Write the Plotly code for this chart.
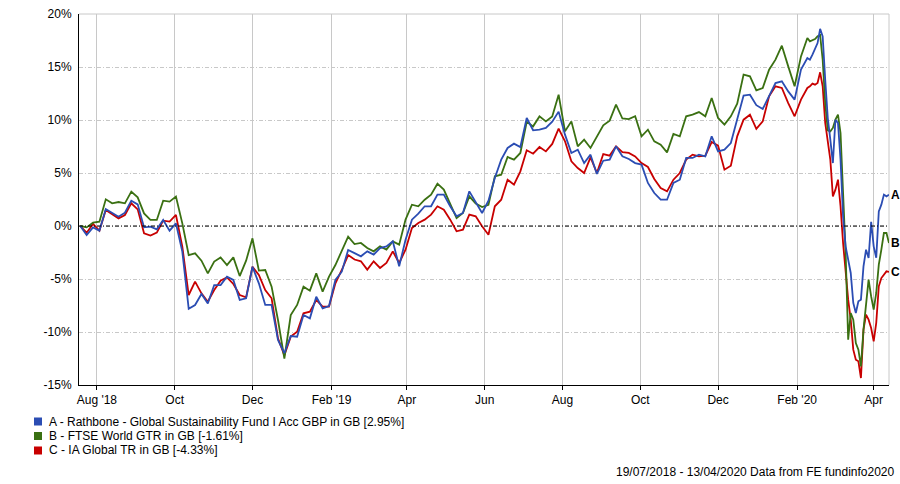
import plotly.graph_objects as go
import pandas as pd

# ---------------- data ----------------
START = "2018-07-19"
# sampling offsets in days from START (5-day steps, then 2-day steps in the 2020 sell-off)
DAY_OFFSETS = list(range(0, 570, 5)) + list(range(570, 634, 2)) + [634]

SERIES_NAMES = [
    "A - Rathbone - Global Sustainability Fund I Acc GBP in GB [2.95%]",
    "B - FTSE World GTR in GB [-1.61%]",
    "C - IA Global TR in GB [-4.33%]",
]
SERIES_TAGS = ["A", "B", "C"]

A_VALUES = [
    0, -0.85, -0.13, -0.44, 1.60, 1.26, 0.88, 1.26, 2.39, 2.04,
    -0.13, -0.06, -0.31, 0.57, -0.44, 0.25, -2.42, -7.8, -7.45, -6.42,
    -7.30, -5.57, -5.57, -4.78, -5.09, -6.98, -6.82, -3.84, -5.41, -7.45,
    -7.45, -10.75, -12.0, -10.38, -10.44, -8.40, -8.71, -6.67, -7.77, -7.55,
    -5.09, -4.31, -2.26, -2.56, -2.86, -2.39, -2.70, -2.08, -1.92, -1.45,
    -3.81, -1.29, 0.60, 1.16, 1.86, 1.86, 2.96, 2.96, 1.86, 0.91,
    1.23, 3.27, 2.23, 1.23, 2.38, 4.53, 6.26, 7.36, 7.77, 7.45,
    10.19, 9.03, 9.09, 9.25, 9.84, 10.79, 8.62, 6.89, 7.20, 5.94,
    6.73, 4.91, 6.16, 6.26, 7.52, 6.58, 6.32, 5.94, 5.79, 4.06,
    3.11, 2.48, 2.48, 4.06, 4.37, 6.42, 6.42, 6.73, 6.57, 8.46,
    7.04, 7.20, 7.83, 10.19, 12.30, 12.39, 11.4, 11.04, 12.23, 13.49,
    13.65, 12.70, 11.92, 14.75,
    15.85, 15.69, 16.16, 16.70, 17.26, 18.6, 17.89, 13.80, 10.19, 8.14,
    5.94, 10.03, 9.72, 6.26, 0.91, -1.92, -3.18, -4.43, -7.26, -8.21,
    -7.11, -6.95, -3.81, -2.23, -3.02, 0.4, -1.92, -3.0, 1.38, 2.01,
    2.96, 2.80, 2.95,
]

B_VALUES = [
    0, -0.13, 0.31, 0.41, 2.52, 2.14, 2.26, 2.14, 3.24, 2.70,
    1.19, 0.57, 0.57, 2.39, 2.30, 2.77, 0.25, -2.74, -2.58, -3.27,
    -4.47, -3.36, -2.96, -3.68, -2.96, -4.72, -3.27, -1.16, -4.21, -4.15,
    -5.72, -8.87, -12.5, -8.4, -7.45, -5.72, -6.10, -4.47, -6.19, -4.78,
    -3.68, -2.26, -1.01, -1.70, -1.60, -2.08, -2.39, -1.92, -2.23, -1.45,
    -1.76, 0.60, 2.01, 1.86, 2.48, 2.96, 3.99, 3.43, 2.01, 0.75,
    1.23, 2.80, 2.11, 1.79, 2.0, 4.69, 4.84, 6.51, 6.26, 6.89,
    9.84, 9.40, 10.34, 9.87, 10.34, 12.39, 8.93, 9.87, 7.52, 8.14,
    7.36, 8.46, 9.50, 9.94, 11.45, 10.14, 10.09, 10.35, 8.46, 9.09,
    7.99, 7.67, 6.95, 8.68, 8.46, 10.35, 10.5, 10.75, 10.35, 12.08,
    10.19, 9.56, 10.35, 11.54, 14.28, 14.12, 12.8, 13.02, 14.75, 15.69,
    17.01, 15.06, 13.18, 16.0,
    17.74, 17.42, 17.52, 17.64, 17.89, 18.0, 15.69, 11.60, 9.03, 8.93,
    9.25, 10.03, 10.50, 8.77, 3.11, -2.55, -10.72, -8.21, -8.84, -11.04,
    -11.67, -13.24, -9.78, -7.58, -5.06, -6.64, -7.89, -6.32, -3.65, -2.23,
    -0.66, -0.66, -1.61,
]

C_VALUES = [
    0, -0.63, 0.19, -0.44, 1.51, 1.13, 0.72, 1.04, 2.14, 1.57,
    -0.69, -0.91, -0.63, 0.50, 0.41, 1.04, -1.95, -6.51, -5.25, -6.35,
    -7.14, -6.04, -5.16, -4.84, -5.47, -6.51, -6.73, -3.84, -4.62, -6.04,
    -6.82, -10.6, -12.2, -10.44, -9.97, -8.24, -8.08, -6.98, -7.61, -7.61,
    -5.41, -4.15, -2.74, -3.16, -3.33, -4.12, -3.33, -3.96, -3.49, -2.39,
    -3.49, -2.23, -0.19, 0.28, 0.60, 1.07, 1.86, 1.54, 0.60, -0.50,
    -0.35, 1.07, 0.91, -0.03, -0.82, 1.86, 2.48, 4.37, 3.90, 5.16,
    7.14, 6.82, 7.45, 7.04, 7.74, 9.18, 7.99, 6.10, 5.47, 5.0,
    6.48, 5.0, 6.79, 6.64, 7.52, 6.96, 6.89, 6.57, 5.94, 5.57,
    4.43, 3.58, 3.27, 4.37, 5.0, 6.26, 6.73, 6.57, 6.64, 7.92,
    7.58, 5.31, 5.69, 8.46, 10.03, 10.5, 9.17, 9.87, 12.23, 13.18,
    13.02, 11.60, 10.35, 11.92,
    13.02, 13.18, 13.43, 13.33, 13.49, 14.5, 13.18, 9.72, 8.14, 6.26,
    2.80, 3.43, 4.37, 1.86, -1.60, -4.43, -6.95, -8.84, -11.67, -12.61,
    -12.77, -14.34, -9.78, -8.36, -8.84, -9.62, -10.88, -9.15, -5.69, -4.91,
    -4.59, -4.28, -4.33,
]

X_TICK_VALS = ["2018-08-01", "2018-10-01", "2018-12-01", "2019-02-01", "2019-04-01",
               "2019-06-01", "2019-08-01", "2019-10-01", "2019-12-01", "2020-02-01",
               "2020-04-01"]
X_TICK_TEXT = ["Aug '18", "Oct", "Dec", "Feb '19", "Apr", "Jun", "Aug", "Oct", "Dec",
               "Feb '20", "Apr"]
Y_TICK_VALS = [-15, -10, -5, 0, 5, 10, 15, 20]
Y_TICK_TEXT = [f"{v}%" for v in Y_TICK_VALS]

FOOTER = "19/07/2018 - 13/04/2020 Data from FE fundinfo2020"

# ---------------- figure ----------------
assert len(A_VALUES) == len(B_VALUES) == len(C_VALUES) == len(DAY_OFFSETS)
dates = pd.Timestamp(START) + pd.to_timedelta(DAY_OFFSETS, unit="D")

COLORS = {"A": "#2B4DB3", "B": "#3A7012", "C": "#C80000"}
values = {"A": A_VALUES, "B": B_VALUES, "C": C_VALUES}

W, H = 900, 484
ML, MR, MT, MB = 79, 11, 14, 99
PW, PH = W - ML - MR, H - MT - MB


def px(x):
    return (x - ML) / PW


def py(y):
    return (H - MB - y) / PH


fig = go.Figure()
for tag in ["C", "B", "A"]:
    fig.add_trace(go.Scatter(
        x=dates, y=values[tag], mode="lines", name=tag,
        line=dict(color=COLORS[tag], width=1.8), showlegend=False,
        hoverinfo="skip",
    ))

FONT = "Liberation Sans, Arial, sans-serif"
GRID = "#c8c8c8"

fig.update_layout(
    width=W, height=H,
    margin=dict(l=ML, r=MR, t=MT, b=MB, pad=0),
    paper_bgcolor="white", plot_bgcolor="white",
    font=dict(family=FONT, size=12, color="#000"),
    showlegend=False,
)
fig.update_xaxes(
    type="date",
    range=[pd.Timestamp(START) - pd.Timedelta(days=1), dates[-1]],
    tickvals=X_TICK_VALS, ticktext=X_TICK_TEXT,
    showgrid=True, gridcolor=GRID, gridwidth=1,
    showline=True, linecolor="#000", linewidth=1,
    ticks="outside", ticklen=4, tickcolor="#000",
    tickfont=dict(family=FONT, size=12, color="#000"),
    zeroline=False, automargin=False,
)
fig.update_yaxes(
    range=[-15, 20], tickvals=Y_TICK_VALS, ticktext=Y_TICK_TEXT,
    showgrid=True, gridcolor=GRID, gridwidth=1, griddash="4px,2px,1px,2px",
    showline=True, linecolor="#000", linewidth=1,
    ticks="", ticklabelstandoff=4,
    tickfont=dict(family=FONT, size=12, color="#000"),
    zeroline=False, automargin=False,
)

# top and right border (light grey)
fig.add_shape(type="line", xref="paper", yref="paper", x0=0, x1=1, y0=1, y1=1,
              line=dict(color=GRID, width=1), layer="below")
fig.add_shape(type="line", xref="paper", yref="paper", x0=1, x1=1, y0=0, y1=1,
              line=dict(color=GRID, width=1), layer="below")
# zero reference line
fig.add_hline(y=0, line=dict(color="#000", width=1, dash="4px,2px,1px,2px"), layer="above")

# end-of-line tags
for tag in SERIES_TAGS:
    fig.add_annotation(x=dates[-1], y=values[tag][-1], text=f"<b>{tag}</b>",
                       showarrow=False, xanchor="left", yanchor="middle", xshift=0,
                       font=dict(family=FONT, size=12, color="#000"))

# legend (squares + labels)
for k, (tag, name) in enumerate(zip(SERIES_TAGS, SERIES_NAMES)):
    yc = 421.5 + k * 14.5
    fig.add_shape(type="rect", xref="paper", yref="paper",
                  x0=px(34), x1=px(42), y0=py(yc - 4), y1=py(yc + 4),
                  fillcolor=COLORS[tag], line=dict(width=0))
    fig.add_annotation(xref="paper", yref="paper", x=px(47), y=py(yc), text=name,
                       showarrow=False, xanchor="left", yanchor="middle",
                       font=dict(family=FONT, size=12, color="#000"))

fig.add_annotation(xref="paper", yref="paper", x=px(897), y=py(472), text=FOOTER,
                   showarrow=False, xanchor="right", yanchor="middle",
                   font=dict(family=FONT, size=12, color="#000"))

fig.write_html("out.html", config={"displayModeBar": False},
               post_script="document.body.style.margin='0';")
